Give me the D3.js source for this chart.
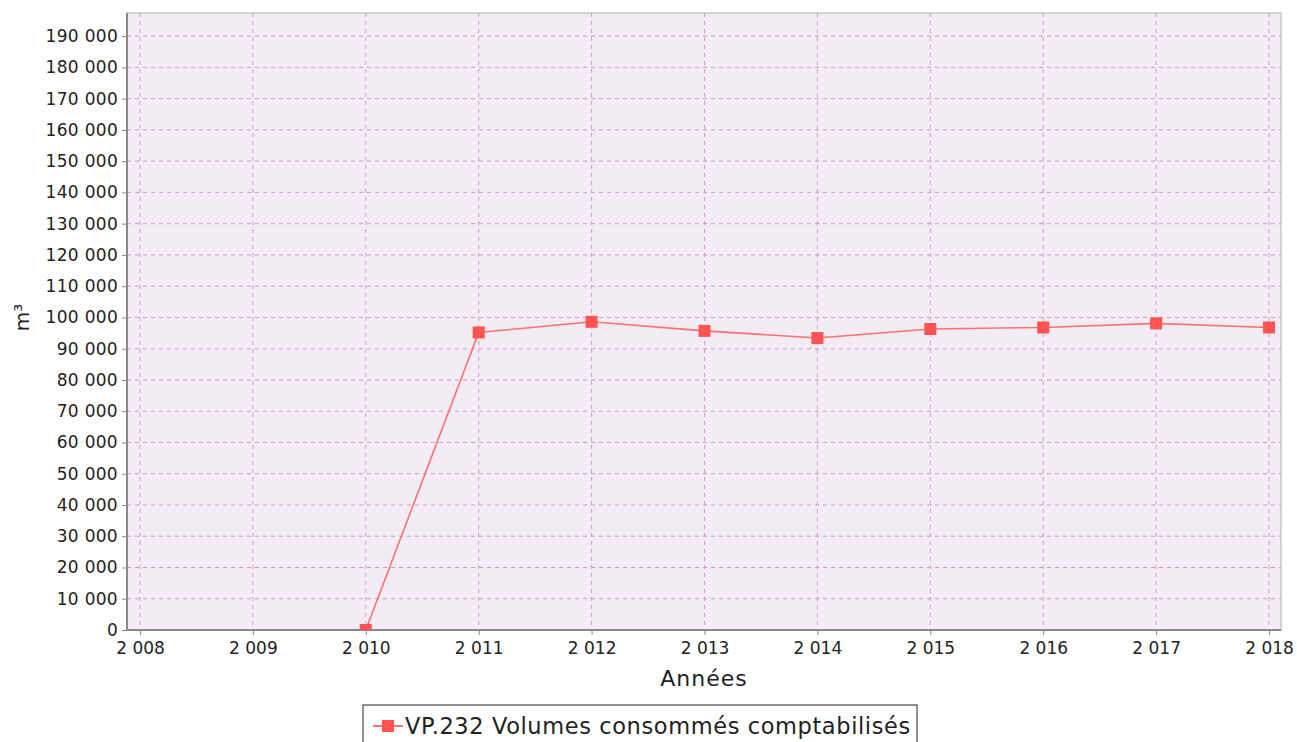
<!DOCTYPE html>
<html>
<head>
<meta charset="utf-8">
<script src="https://cdn.jsdelivr.net/npm/d3@7"></script>
<style>
  body { margin: 0; background: #fff; }
  text { font-family: "DejaVu Sans", sans-serif; fill: #222; }
</style>
</head>
<body>
<div id="chart"></div>
<script>
// data
var years = [2010, 2011, 2012, 2013, 2014, 2015, 2016, 2017, 2018];
var volumes = [0, 95200, 98600, 95700, 93400, 96300, 96800, 98100, 96800];
var yearTicks = [2008, 2009, 2010, 2011, 2012, 2013, 2014, 2015, 2016, 2017, 2018];
var seriesName = "VP.232 Volumes consommés comptabilisés";

var W = 1297, H = 742;
var margin = {top: 13, right: 16, bottom: 112, left: 127};
var width = W - margin.left - margin.right,
    height = H - margin.top - margin.bottom;

var svg = d3.select("#chart").append("svg")
    .attr("width", W)
    .attr("height", H);

var g = svg.append("g")
    .attr("transform", "translate(" + margin.left + "," + margin.top + ")");

var x = d3.scaleLinear()
    .domain([2007.885, 2018.106])
    .range([0, width]);

var y = d3.scaleLinear()
    .domain([0, 197400])
    .range([height, 0]);

var fmt = function (v) { return d3.format(",")(v).replace(/,/g, " "); };

// plot background
g.append("rect")
    .attr("width", width)
    .attr("height", height)
    .style("fill", "#f3ecf4")
    .style("stroke", "#b0b0b0");

// grid lines
var yTicks = d3.range(0, 200000, 10000);
g.selectAll(".hgrid").data(yTicks.slice(1))
    .enter().append("line")
    .attr("x1", 0).attr("x2", width)
    .attr("y1", function (d) { return y(d); })
    .attr("y2", function (d) { return y(d); })
    .style("stroke", "#c79ac9")
    .style("stroke-dasharray", "4,4");

g.selectAll(".vgrid").data(yearTicks)
    .enter().append("line")
    .attr("y1", 0).attr("y2", height)
    .attr("x1", function (d) { return x(d); })
    .attr("x2", function (d) { return x(d); })
    .style("stroke", "#c79ac9")
    .style("stroke-dasharray", "4,4");

// axes
var yAxis = d3.axisLeft(y)
    .tickValues(yTicks)
    .tickSize(5)
    .tickPadding(4)
    .tickFormat(fmt);

var gy = g.append("g").call(yAxis);
gy.select(".domain").attr("d", "M0,0V" + height).style("stroke", "#888").style("stroke-width", 2);
gy.selectAll("text").style("font-size", "17px").style("letter-spacing", "0.3px");
gy.selectAll(".tick line").style("stroke", "#888");

var xAxis = d3.axisBottom(x)
    .tickValues(yearTicks)
    .tickSize(5)
    .tickPadding(7)
    .tickFormat(fmt);

var gx = g.append("g")
    .attr("transform", "translate(0," + height + ")")
    .call(xAxis);
gx.select(".domain").attr("d", "M0,0H" + width).style("stroke", "#888").style("stroke-width", 2);
gx.selectAll("text").style("font-size", "17px");
gx.selectAll(".tick line").style("stroke", "#888");

// axis titles
g.append("text")
    .attr("x", 704 - margin.left)
    .attr("y", 686 - margin.top)
    .attr("text-anchor", "middle")
    .style("font-size", "22px")
    .style("letter-spacing", "1px")
    .text("Années");

g.append("text")
    .attr("transform", "translate(" + (-98) + "," + y(100000) + ") rotate(-90)")
    .attr("text-anchor", "middle")
    .style("font-size", "20px")
    .text("m³");

// series line
var line = d3.line()
    .x(function (d, i) { return x(years[i]); })
    .y(function (d) { return y(d); });

g.append("path")
    .datum(volumes)
    .attr("d", line)
    .style("fill", "none")
    .style("stroke", "#ff7070")
    .style("stroke-width", 1.6);

// markers, clipped at the plot bottom like the original
g.append("clipPath").attr("id", "plotclip")
    .append("rect").attr("width", width).attr("height", height);

g.append("g").attr("clip-path", "url(#plotclip)")
    .selectAll(".pt").data(volumes)
    .enter().append("rect")
    .attr("x", function (d, i) { return x(years[i]) - 6; })
    .attr("y", function (d) { return y(d) - 6; })
    .attr("width", 12)
    .attr("height", 12)
    .style("fill", "#ff5252");

// legend
var lg = svg.append("g").attr("transform", "translate(363,705)");
lg.append("rect")
    .attr("x", 0).attr("y", 0)
    .attr("width", 554).attr("height", 45)
    .style("fill", "#fff")
    .style("stroke", "#222");
lg.append("line")
    .attr("x1", 10).attr("x2", 40)
    .attr("y1", 21).attr("y2", 21)
    .style("stroke", "#ff5252").style("stroke-width", 1.6);
lg.append("rect")
    .attr("x", 19).attr("y", 15).attr("width", 12).attr("height", 12)
    .style("fill", "#ff5252");
lg.append("text")
    .attr("x", 42).attr("y", 29)
    .style("font-size", "22.5px")
    .style("letter-spacing", "0.6px")
    .text(seriesName);
</script>
</body>
</html>
